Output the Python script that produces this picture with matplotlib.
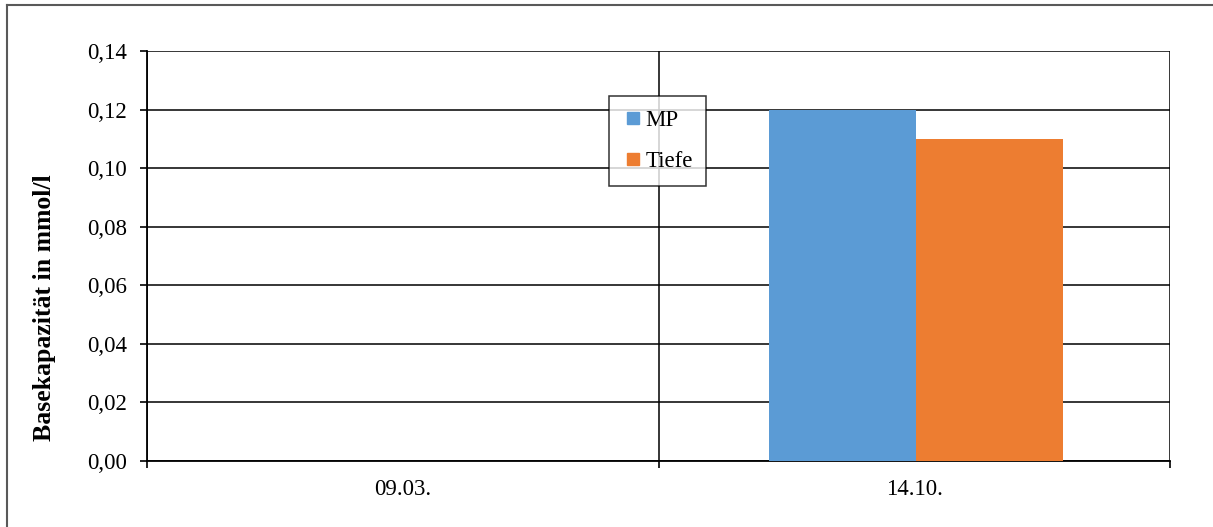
import numpy as np
import matplotlib
matplotlib.use("Agg")
import matplotlib.pyplot as plt
from matplotlib.lines import Line2D
from matplotlib.ticker import FuncFormatter, FixedLocator

dates = ["09.03.", "14.10."]
mp = [np.nan, 0.12]
tiefe = [np.nan, 0.11]
yticks = [0.0, 0.02, 0.04, 0.06, 0.08, 0.10, 0.12, 0.14]

plt.rcParams["font.family"] = ["Liberation Serif", "DejaVu Serif"]

W, H = 1213, 527
fig = plt.figure(figsize=(W / 100, H / 100), dpi=100)
ax = fig.add_axes([147 / W, 1 - 461 / H, (1170 - 147) / W, (461 - 51) / H])

x = np.arange(len(dates))
w = 0.287
c_mp, c_tiefe = "#5b9bd5", "#ed7d31"
ax.bar(x - w / 2 + 0.003, mp, w, color=c_mp, zorder=3)
ax.bar(x + w / 2 + 0.003, tiefe, w, color=c_tiefe, zorder=3)

ax.set_xlim(-0.5, 1.5)
ax.set_ylim(0, 0.14)
ax.set_yticks(yticks)
ax.yaxis.set_major_formatter(FuncFormatter(lambda v, p: f"{v:.2f}".replace(".", ",")))
ax.set_xticks(x)
ax.set_xticklabels(dates)
ax.xaxis.set_minor_locator(FixedLocator([-0.5, 0.5, 1.5]))
ax.tick_params(axis="x", which="major", length=0, labelsize=16.5, pad=13)
ax.tick_params(axis="x", which="minor", length=5, width=1.2, direction="out")
ax.tick_params(axis="y", length=5, width=1.2, direction="out", labelsize=16.5, pad=9.5)

ax.grid(axis="y", color="black", lw=1.1, zorder=0)
ax.grid(axis="x", which="minor", color="black", lw=1.1, zorder=0)
for s in ["top", "right"]:
    ax.spines[s].set_visible(False)
ax.spines["left"].set_linewidth(1.3)
ax.spines["bottom"].set_linewidth(1.3)

ax.set_ylabel("Basekapazität in mmol/l", fontsize=18.5, fontweight="bold")
ax.yaxis.set_label_coords(-0.089, 0.375)

handles = [Line2D([], [], marker="s", ls="none", markersize=8, color=c_mp),
           Line2D([], [], marker="s", ls="none", markersize=8, color=c_tiefe)]
leg = ax.legend(handles, ["MP", "Tiefe"], loc="upper left",
                bbox_to_anchor=((609 - 147) / (1170 - 147), (461 - 96) / (461 - 51)),
                fontsize=16.5, frameon=True, fancybox=False, handlelength=0.9, numpoints=1,
                handletextpad=0.08, labelspacing=0.9, borderpad=0.6, borderaxespad=0)
leg.get_frame().set_edgecolor("black")
leg.get_frame().set_linewidth(1.1)

# outer chart border (only left/top visible in crop)
fig.add_artist(Line2D([7 / W, 7 / W], [0, 1 - 5 / H], color="#595959", lw=1.5))
fig.add_artist(Line2D([7 / W, 1], [1 - 5 / H, 1 - 5 / H], color="#595959", lw=1.5))

fig.savefig("out.png", dpi=100)
